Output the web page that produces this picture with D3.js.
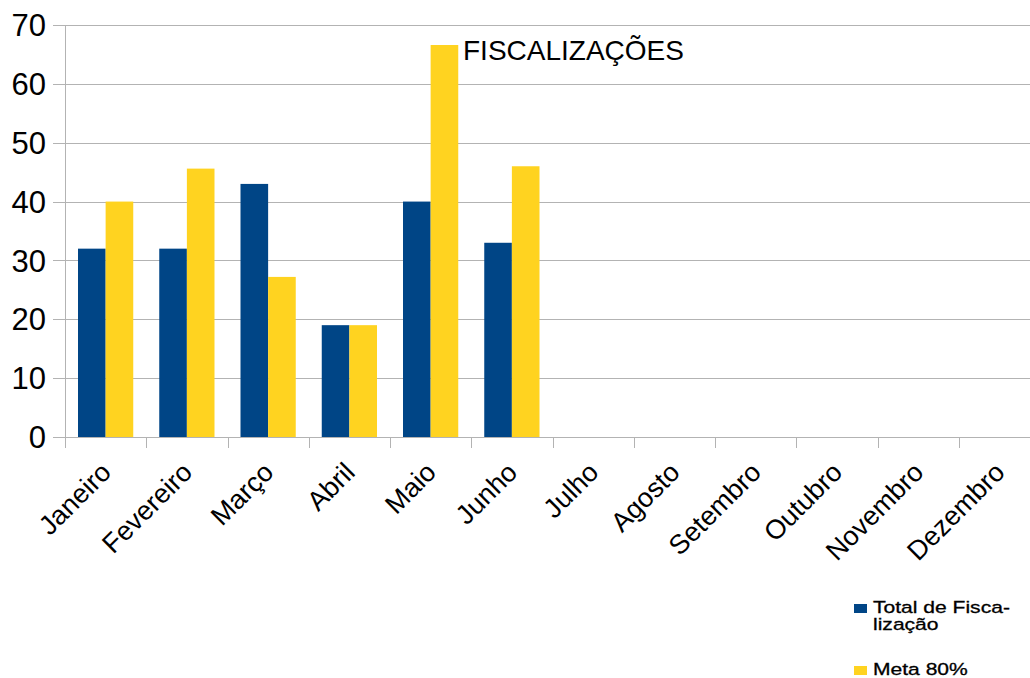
<!DOCTYPE html>
<html>
<head>
<meta charset="utf-8">
<script src="https://cdn.jsdelivr.net/npm/d3@7"></script>
<style>
  body { margin: 0; background: #fff; }
  svg { font-family: "Liberation Sans", Arial, sans-serif; }
</style>
</head>
<body>
<div id="chart"></div>
<script>
// months on the x axis
const months = ["Janeiro", "Fevereiro", "Março", "Abril", "Maio", "Junho",
  "Julho", "Agosto", "Setembro", "Outubro", "Novembro", "Dezembro"];
// series values (null = no data yet)
const totalFiscalizacao = [32, 32, 43, 19, 40, 33, null, null, null, null, null, null];
const meta80 = [40, 45.6, 27.2, 19, 66.6, 46, null, null, null, null, null, null];
const seriesNames = ["Total de Fisca-|lização", "Meta 80%"];
const yTicks = [0, 10, 20, 30, 40, 50, 60, 70];

const width = 1030;
const height = 678;
const margin = { top: 25, right: -10, bottom: 241, left: 65 };

const colours = ["#004586", "#ffd320"];

const svg = d3.select("#chart")
  .append("svg")
  .attr("width", width)
  .attr("height", height);

const plotW = width - margin.left - margin.right;
const plotH = height - margin.top - margin.bottom;

const x0 = d3.scaleBand()
  .domain(months)
  .range([margin.left, margin.left + plotW])
  .paddingInner(0.32)
  .paddingOuter(0.16);

const x1 = d3.scaleBand()
  .domain([0, 1])
  .range([0, x0.bandwidth()]);

const y = d3.scaleLinear()
  .domain([0, 70])
  .range([margin.top + plotH, margin.top]);

// gridlines
svg.append("g")
  .selectAll("line")
  .data(yTicks)
  .enter()
  .append("line")
  .attr("x1", margin.left - 12)
  .attr("x2", width)
  .attr("y1", d => Math.round(y(d)) + 0.5)
  .attr("y2", d => Math.round(y(d)) + 0.5)
  .style("stroke", "#b3b3b3")
  .style("stroke-width", 1);

// y axis line
svg.append("line")
  .attr("x1", margin.left + 0.5)
  .attr("x2", margin.left + 0.5)
  .attr("y1", margin.top)
  .attr("y2", y(0) + 11)
  .style("stroke", "#b3b3b3");

// x ticks at category boundaries
svg.append("g")
  .selectAll("line")
  .data(d3.range(months.length + 1))
  .enter()
  .append("line")
  .attr("x1", i => Math.round(margin.left + i * (plotW / months.length)) + 0.5)
  .attr("x2", i => Math.round(margin.left + i * (plotW / months.length)) + 0.5)
  .attr("y1", y(0))
  .attr("y2", y(0) + 11)
  .style("stroke", "#b3b3b3");

// y labels
svg.append("g")
  .selectAll("text")
  .data(yTicks)
  .enter()
  .append("text")
  .attr("x", 46)
  .attr("y", d => y(d))
  .attr("dy", "0.36em")
  .attr("text-anchor", "end")
  .style("font-size", "31px")
  .style("fill", "#000")
  .text(d => d);

// bars
const series = [totalFiscalizacao, meta80];
series.forEach((vals, s) => {
  svg.append("g")
    .selectAll("rect")
    .data(months.map((m, i) => ({ m, v: vals[i] })).filter(d => d.v != null))
    .enter()
    .append("rect")
    .attr("x", d => x0(d.m) + x1(s))
    .attr("width", x1.bandwidth())
    .attr("y", d => y(d.v))
    .attr("height", d => y(0) - y(d.v))
    .attr("fill", colours[s]);
});

// x labels, rotated
svg.append("g")
  .selectAll("text")
  .data(months)
  .enter()
  .append("text")
  .attr("transform", d => `translate(${x0(d) + x0.bandwidth() / 2 + 7},${y(0) + 37}) rotate(-45)`)
  .attr("text-anchor", "end")
  .style("font-size", "27px")
  .style("fill", "#000")
  .text(d => d);

// title
svg.append("text")
  .attr("x", 463)
  .attr("y", 60)
  .style("font-size", "28px")
  .style("fill", "#000")
  .text("FISCALIZAÇÕES");

// legend (text is drawn wide, as in the original)
const legend = svg.append("g");
const legendY = [613, 675];
seriesNames.forEach((name, i) => {
  legend.append("rect")
    .attr("x", 854)
    .attr("y", legendY[i] - 9)
    .attr("width", 13)
    .attr("height", 9)
    .attr("fill", colours[i]);
  const t = legend.append("text")
    .attr("transform", `translate(873,${legendY[i]}) scale(1.24,1)`)
    .style("font-size", "17px")
    .style("fill", "#000")
    .style("stroke", "#000")
    .style("stroke-width", 0.3);
  name.split("|").forEach((line, j) => {
    t.append("tspan")
      .attr("x", 0)
      .attr("dy", j === 0 ? 0 : 17)
      .text(line);
  });
});
</script>
</body>
</html>
